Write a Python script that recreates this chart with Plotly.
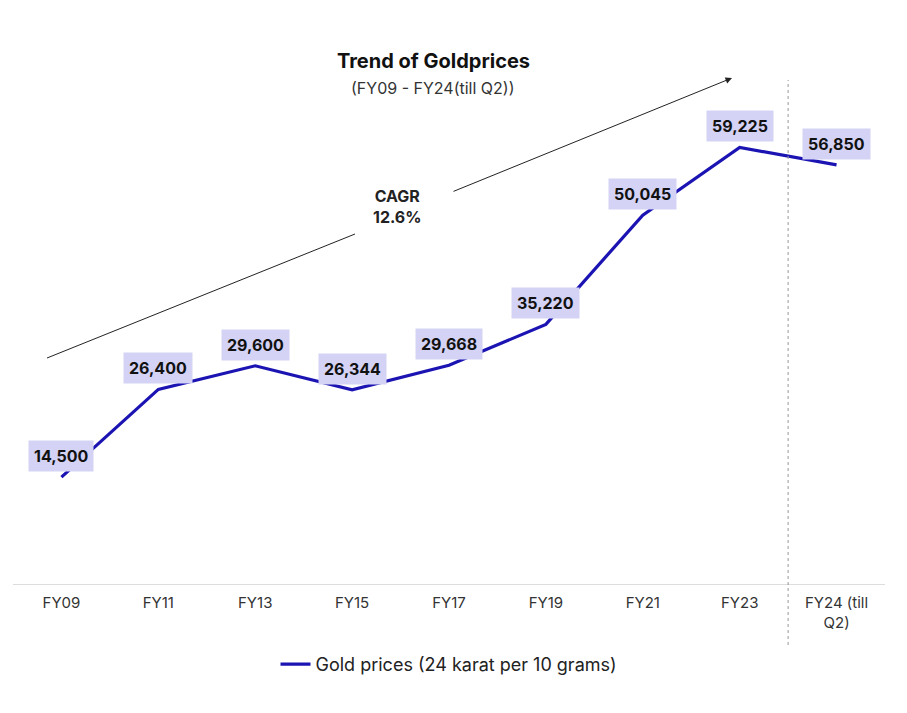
import plotly.graph_objects as go

categories = ["FY09", "FY11", "FY13", "FY15", "FY17", "FY19", "FY21", "FY23", "FY24 (till<br>Q2)"]
prices = [14500, 26400, 29600, 26344, 29668, 35220, 50045, 59225, 56850]
price_labels = ["14,500", "26,400", "29,600", "26,344", "29,668", "35,220", "50,045", "59,225", "56,850"]
series_name = "Gold prices (24 karat per 10 grams)"

FONT = "Inter, Open Sans, sans-serif"
OFF = 8  # page body margin
W, H = 907 - OFF, 713 - OFF
L = 13 - OFF
R = W - (885 - OFF)
T = 68 - OFF
B = H - (584 - OFF)
pw, ph = W - L - R, H - T - B

def px(xp):
    return (xp - OFF - L) / pw

def py(yp):
    return (H - B - (yp - OFF)) / ph

fig = go.Figure()
fig.add_trace(go.Scatter(
    x=categories, y=prices, mode="lines", name=series_name,
    line=dict(color="#1b14b3", width=3.2),
))

for c, v, t in zip(categories, prices, price_labels):
    fig.add_annotation(
        x=c, y=v, text="<b>" + t + "</b>", showarrow=False, yshift=21,
        bgcolor="#d4d3f5", borderpad=5,
        font=dict(family=FONT, size=16, color="#111111"),
    )

# vertical dashed divider between FY23 and FY24
fig.add_shape(type="line", xref="x", yref="paper", x0=7.5, x1=7.5,
              y0=py(645), y1=py(80), line=dict(color="#999999", width=1, dash="dot"))

# CAGR trend arrow
fig.add_shape(type="line", xref="paper", yref="paper",
              x0=px(47), y0=py(358), x1=px(355), y1=py(234),
              line=dict(color="#222222", width=1))
fig.add_annotation(xref="paper", yref="paper", x=px(732), y=py(78),
                   ax=452 - 732, ay=192 - 78, showarrow=True,
                   arrowhead=2, arrowsize=1.3, arrowwidth=1, arrowcolor="#222222", text="")
fig.add_annotation(xref="paper", yref="paper", x=px(397), y=py(206),
                   xanchor="center", yanchor="middle",
                   text="<b>CAGR<br>12.6%</b>", showarrow=False,
                   font=dict(family=FONT, size=16, color="#222222"))

# title & subtitle
fig.add_annotation(xref="paper", yref="paper", x=px(433), y=py(61),
                   xanchor="center", yanchor="middle",
                   text="<b>Trend of Goldprices</b>", showarrow=False,
                   font=dict(family=FONT, size=20, color="#111111"))
fig.add_annotation(xref="paper", yref="paper", x=px(433), y=py(88),
                   xanchor="center", yanchor="middle",
                   text="(FY09 - FY24(till Q2))", showarrow=False,
                   font=dict(family=FONT, size=16, color="#333333"))

fig.update_layout(
    width=W, height=H,
    margin=dict(l=L, r=R, t=T, b=B),
    paper_bgcolor="white", plot_bgcolor="white",
    font=dict(family=FONT, color="#333333"),
    showlegend=True,
    legend=dict(orientation="h", x=0.5, xanchor="center", y=-0.12, yanchor="top",
                font=dict(family=FONT, size=18, color="#222222")),
)
fig.update_xaxes(type="category", range=[-0.5, 8.5], showgrid=False,
                 showline=True, linecolor="#dddddd", linewidth=1,
                 ticks="", ticklabelstandoff=5,
                 tickfont=dict(family=FONT, size=15, color="#333333"))
fig.update_yaxes(range=[0, 70000], showgrid=False, showticklabels=False,
                 zeroline=False, showline=False)

fig.write_html("out.html")
